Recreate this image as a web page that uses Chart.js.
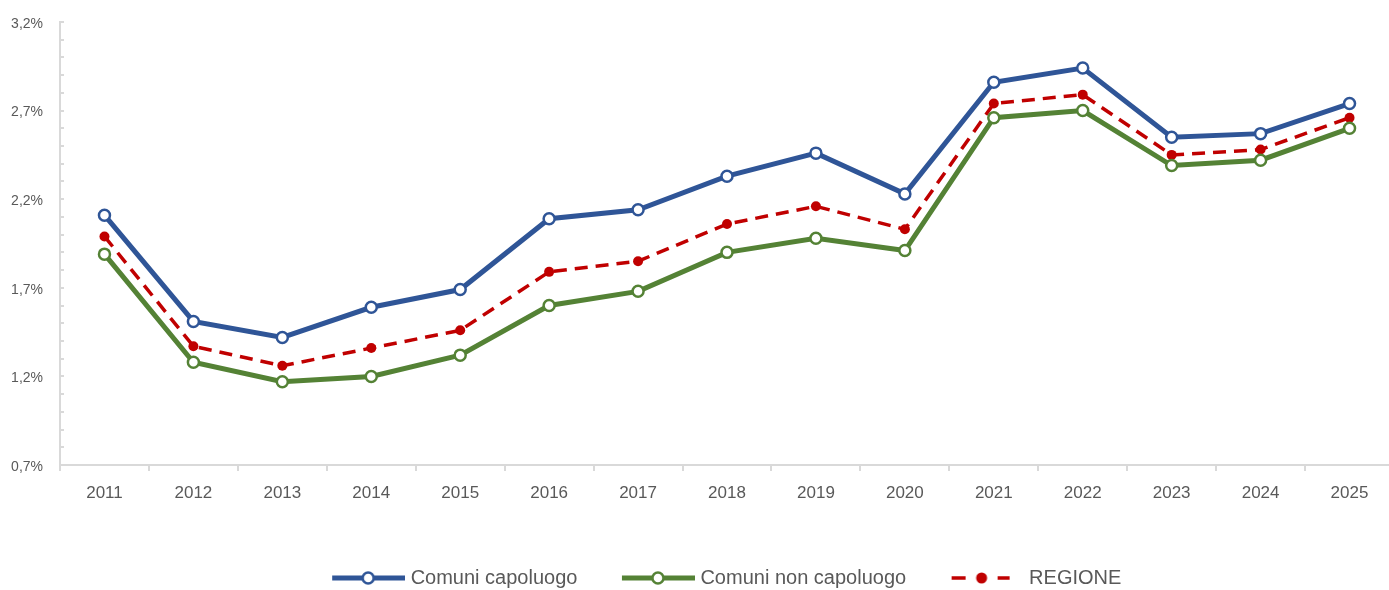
<!DOCTYPE html>
<html>
<head>
<meta charset="utf-8">
<script src="https://cdn.jsdelivr.net/npm/chart.js@4/dist/chart.umd.min.js"></script>
<style>
  html, body { margin: 0; padding: 0; background: #fff; overflow: hidden; }
  #box { width: 1402px; height: 598px; }
</style>
</head>
<body>
<div id="box"><canvas id="grafico"></canvas></div>
<script>
const anni = ['2011', '2012', '2013', '2014', '2015', '2016', '2017', '2018', '2019', '2020', '2021', '2022', '2023', '2024', '2025'];
const capoluogo = [2.11, 1.51, 1.42, 1.59, 1.69, 2.09, 2.14, 2.33, 2.46, 2.23, 2.86, 2.94, 2.55, 2.57, 2.74];
const nonCapoluogo = [1.89, 1.28, 1.17, 1.20, 1.32, 1.60, 1.68, 1.90, 1.98, 1.91, 2.66, 2.70, 2.39, 2.42, 2.60];
const regione = [1.99, 1.37, 1.26, 1.36, 1.46, 1.79, 1.85, 2.06, 2.16, 2.03, 2.74, 2.79, 2.45, 2.48, 2.66];
const etichetteY = ['0,7%', '1,2%', '1,7%', '2,2%', '2,7%', '3,2%'];

const BLU = '#2F5597';
const VERDE = '#548235';
const ROSSO = '#C00000';
const GRIGIO = '#595959';
const ASSE = '#d9d9d9';
const FONT = "'Liberation Sans Narrow', 'Liberation Sans', Arial, sans-serif";

// icona legenda (linea + marcatore), con spazio vuoto a sinistra
function iconaLegenda(colore, tratteggio) {
    const c = document.createElement('canvas');
    c.width = 119; c.height = 16;
    const g = c.getContext('2d');
    g.strokeStyle = colore;
    g.fillStyle = colore;
    if (tratteggio) {
        g.lineWidth = 3.5;
        g.beginPath();
        g.moveTo(47, 8); g.lineTo(61, 8);
        g.moveTo(93, 8); g.lineTo(105, 8);
        g.stroke();
        g.beginPath();
        g.arc(77, 8, 5.5, 0, Math.PI * 2);
        g.fill();
    } else {
        g.lineWidth = 5;
        g.beginPath();
        g.moveTo(46, 8); g.lineTo(119, 8);
        g.stroke();
        g.beginPath();
        g.arc(82, 8, 5.5, 0, Math.PI * 2);
        g.fillStyle = '#fff';
        g.fill();
        g.lineWidth = 2.5;
        g.stroke();
    }
    return c;
}

const icone = [iconaLegenda(BLU, false), iconaLegenda(VERDE, false), iconaLegenda(ROSSO, true)];

const ctx = document.getElementById('grafico').getContext('2d');

new Chart(ctx, {
    type: 'line',
    data: {
        labels: anni,
        datasets: [
            {
                label: 'Comuni capoluogo',
                data: capoluogo,
                borderColor: BLU,
                borderWidth: 5,
                pointRadius: 5.5,
                pointBorderWidth: 2.5,
                pointBackgroundColor: '#fff',
                pointBorderColor: BLU,
                tension: 0
            },
            {
                label: 'Comuni non capoluogo',
                data: nonCapoluogo,
                borderColor: VERDE,
                borderWidth: 5,
                pointRadius: 5.5,
                pointBorderWidth: 2.5,
                pointBackgroundColor: '#fff',
                pointBorderColor: VERDE,
                tension: 0
            },
            {
                label: 'REGIONE',
                data: regione,
                borderColor: ROSSO,
                borderWidth: 3.5,
                borderDash: [13, 8],
                pointRadius: 5,
                pointBorderWidth: 0,
                pointBackgroundColor: ROSSO,
                pointBorderColor: ROSSO,
                tension: 0
            }
        ]
    },
    options: {
        responsive: true,
        maintainAspectRatio: false,
        animation: false,
        layout: { padding: { top: 22, right: 0, left: 10, bottom: 0 } },
        plugins: {
            tooltip: { enabled: false },
            legend: {
                position: 'bottom',
                labels: {
                    usePointStyle: true,
                    pointStyleWidth: 110,
                    color: GRIGIO,
                    font: { family: FONT, size: 20 },
                    padding: 3,
                    generateLabels: function (chart) {
                        return chart.data.datasets.map((ds, i) => ({
                            text: ds.label,
                            pointStyle: icone[i],
                            fontColor: GRIGIO,
                            strokeStyle: 'transparent',
                            fillStyle: 'transparent',
                            lineWidth: 0,
                            datasetIndex: i
                        }));
                    }
                }
            }
        },
        scales: {
            x: {
                offset: true,
                grid: {
                    offset: true,
                    drawOnChartArea: false,
                    color: ASSE,
                    tickLength: 6,
                    lineWidth: 2
                },
                border: { color: ASSE, width: 2 },
                ticks: {
                    color: GRIGIO,
                    font: { family: FONT, size: 17 },
                    padding: 12,
                    maxRotation: 0
                },
                afterFit: function (scale) { scale.height = 100; }
            },
            y: {
                min: 0.7,
                max: 3.2,
                grid: {
                    drawOnChartArea: false,
                    color: ASSE,
                    tickLength: -4,
                    lineWidth: 2
                },
                border: { color: ASSE, width: 2 },
                ticks: {
                    stepSize: 0.1,
                    autoSkip: false,
                    color: GRIGIO,
                    font: { family: FONT, size: 14 },
                    padding: 21,
                    labelOffset: 2,
                    callback: function (v) {
                        const k = Math.round((v - 0.7) * 10);
                        return k % 5 === 0 ? etichetteY[k / 5] : '';
                    }
                },
                afterFit: function (scale) {
                    scale.width = 50;
                    scale.paddingTop = 0;
                    scale.paddingBottom = 0;
                }
            }
        }
    }
});
</script>
</body>
</html>
